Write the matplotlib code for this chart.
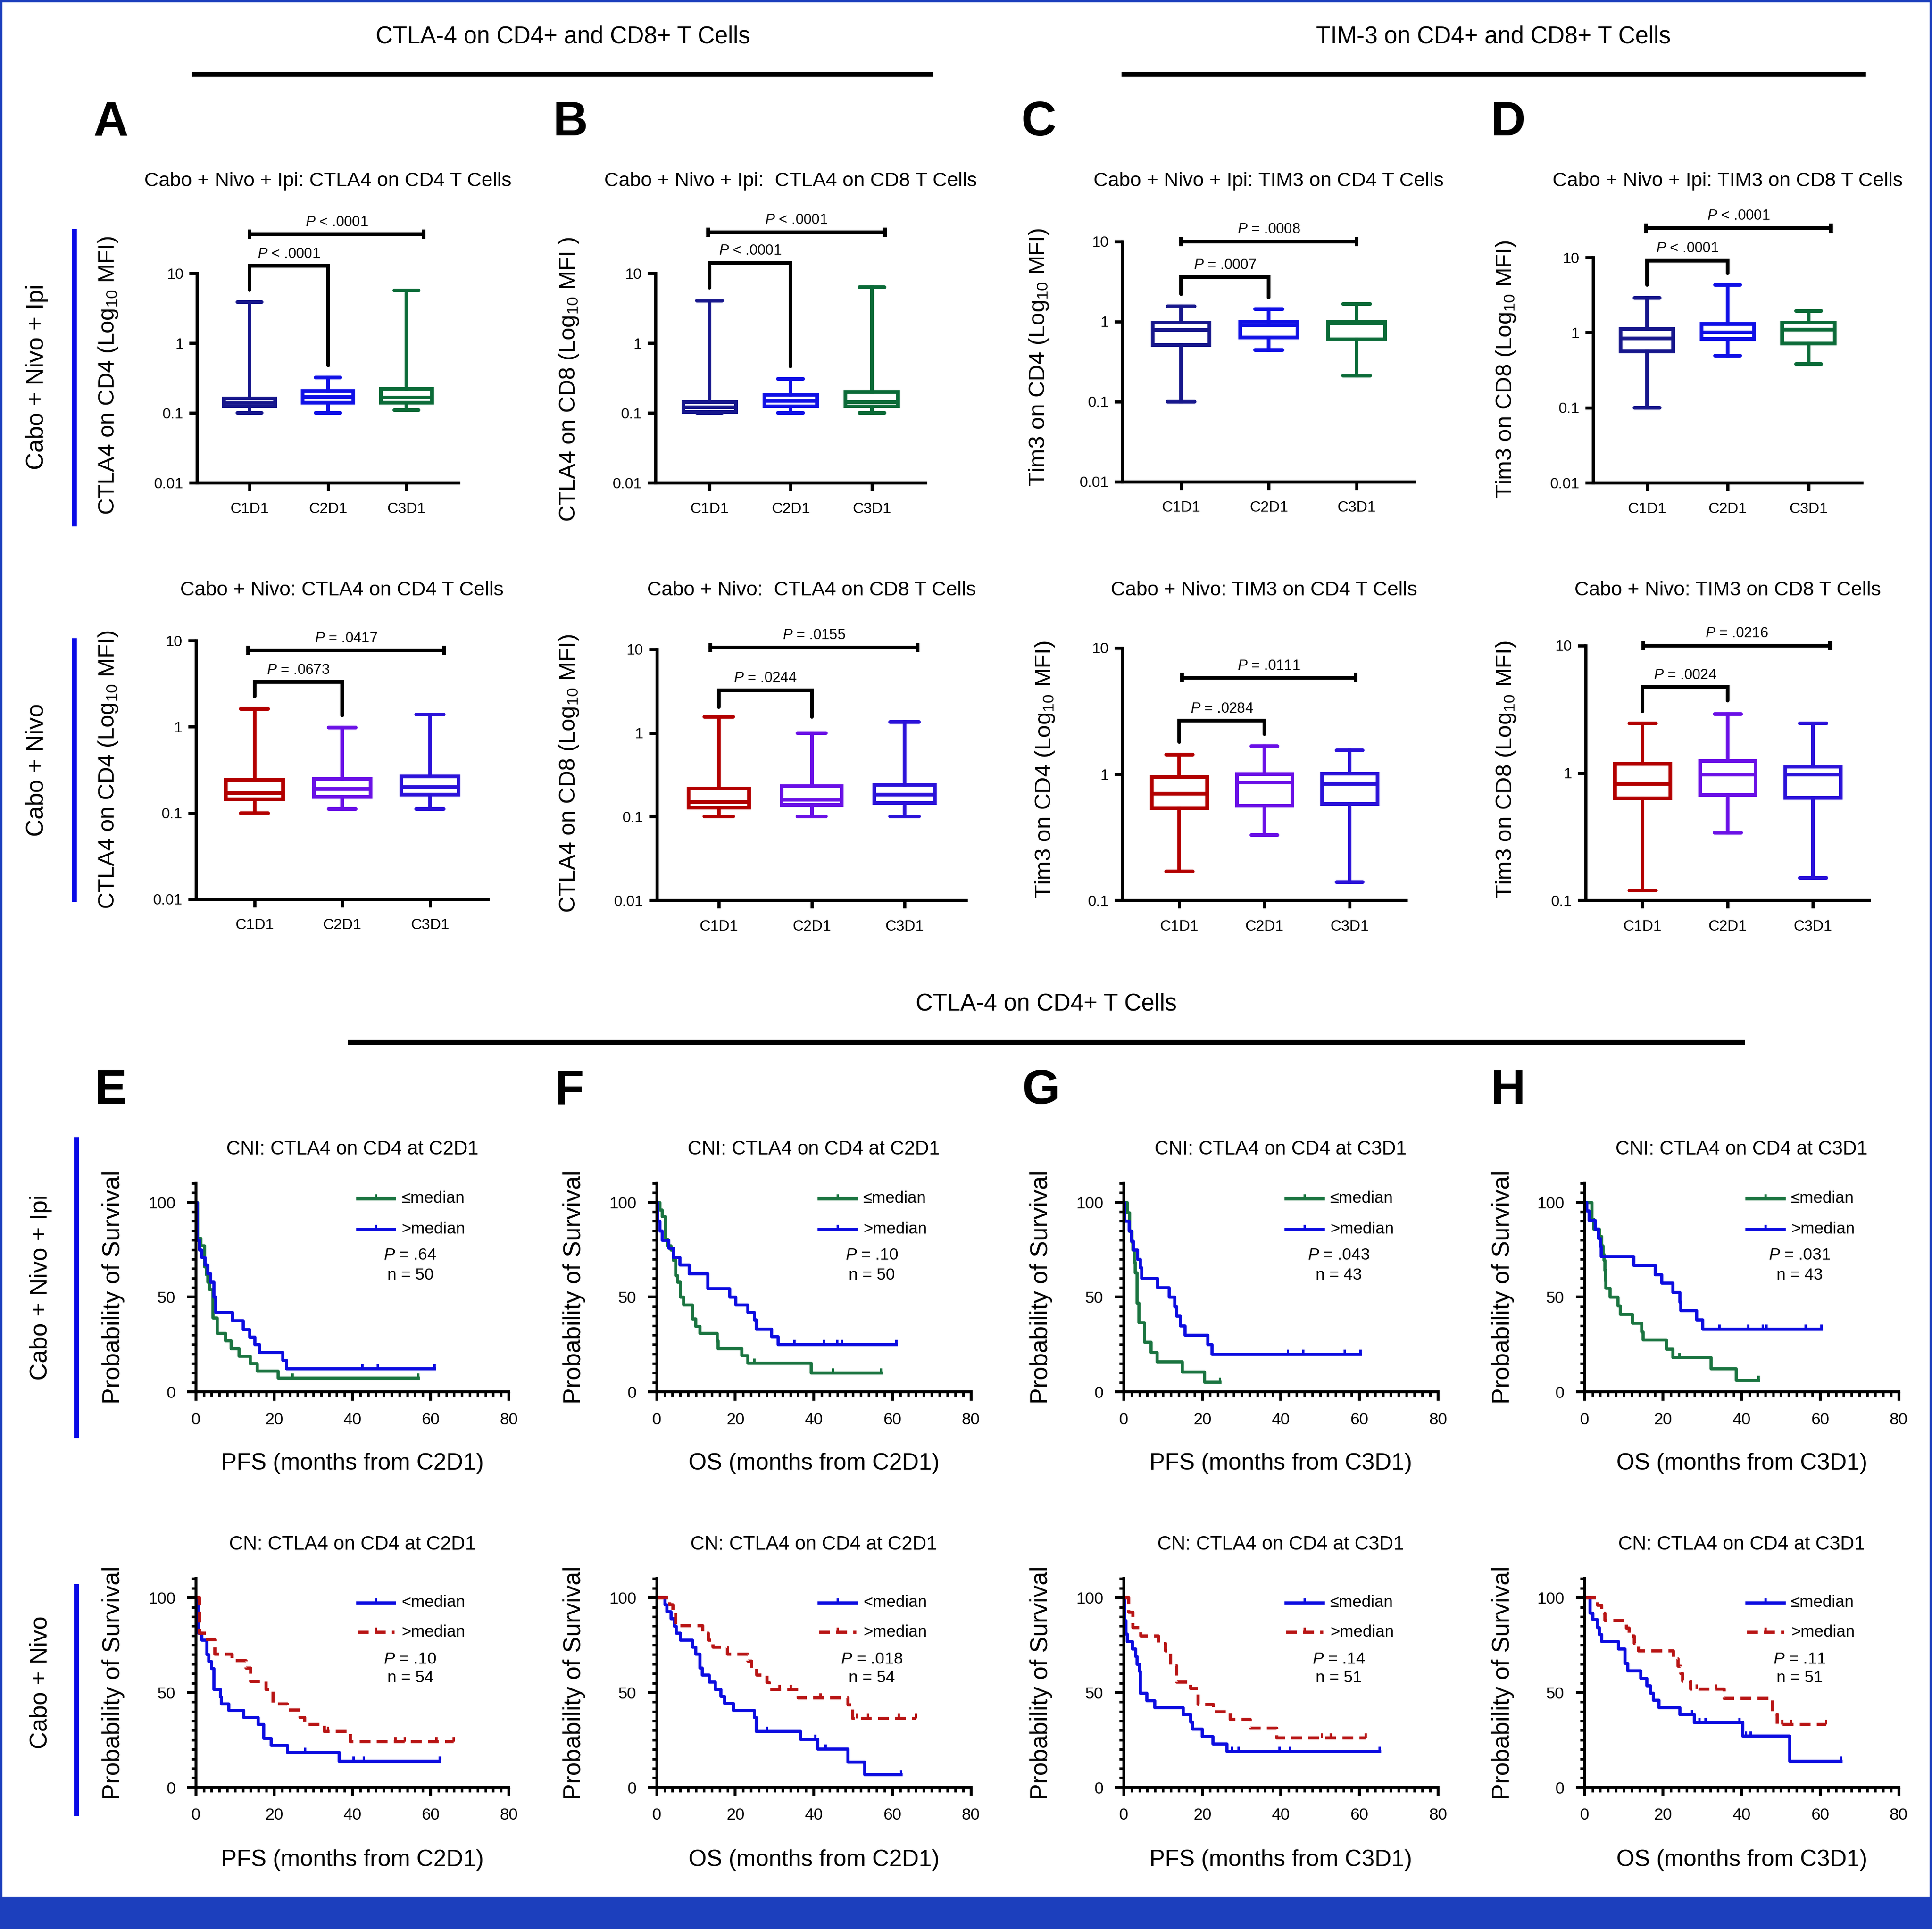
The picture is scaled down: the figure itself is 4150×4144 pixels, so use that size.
import numpy as np
import matplotlib
matplotlib.use("Agg")
import matplotlib.pyplot as plt
from matplotlib import font_manager
from matplotlib.lines import Line2D
from matplotlib.patches import Rectangle
from matplotlib.ticker import NullLocator

# ---------------- box plot data: [whisker low, Q1, median, Q3, whisker high] ----------------
timepoints = ["C1D1", "C2D1", "C3D1"]

ctla4_cd4_cni = [[0.10, 0.124, 0.14, 0.163, 3.9],
                 [0.10, 0.14, 0.17, 0.206, 0.324],
                 [0.11, 0.14, 0.166, 0.224, 5.7]]
ctla4_cd8_cni = [[0.10, 0.104, 0.12, 0.144, 4.1],
                 [0.10, 0.125, 0.15, 0.184, 0.31],
                 [0.10, 0.125, 0.143, 0.20, 6.4]]
tim3_cd4_cni = [[0.10, 0.51, 0.78, 0.97, 1.54],
                [0.44, 0.63, 0.90, 1.0, 1.42],
                [0.21, 0.60, 0.94, 1.0, 1.66]]
tim3_cd8_cni = [[0.10, 0.56, 0.84, 1.12, 2.9],
                [0.49, 0.82, 1.0, 1.3, 4.3],
                [0.38, 0.71, 1.1, 1.36, 1.93]]

ctla4_cd4_cn = [[0.10, 0.144, 0.17, 0.244, 1.6],
                [0.111, 0.153, 0.19, 0.25, 0.98],
                [0.111, 0.163, 0.20, 0.265, 1.38]]
ctla4_cd8_cn = [[0.10, 0.129, 0.15, 0.216, 1.56],
                [0.10, 0.138, 0.16, 0.23, 1.0],
                [0.10, 0.145, 0.184, 0.24, 1.35]]
tim3_cd4_cn = [[0.17, 0.54, 0.70, 0.95, 1.43],
               [0.33, 0.56, 0.86, 1.0, 1.66],
               [0.14, 0.58, 0.84, 1.01, 1.55]]
tim3_cd8_cn = [[0.12, 0.63, 0.82, 1.18, 2.44],
               [0.34, 0.67, 0.97, 1.24, 2.9],
               [0.15, 0.64, 0.97, 1.12, 2.44]]

# brackets: long (x from, x to, height), short (height, left leg end, right leg end)
p_long_top = ["< .0001", "< .0001", "= .0008", "< .0001"]
p_short_top = ["< .0001", "< .0001", "= .0007", "< .0001"]
long_top = [(0, 2.22, 36.5), (-0.02, 2.16, 39), (0, 2.0, 10), (-0.01, 2.28, 24.7)]
short_top = [(12.8, 5.8, 0.48), (14.2, 6.3, 0.47), (3.6, 2.2, 2.0), (9.1, 4.3, 6.2)]

p_long_bot = ["= .0417", "= .0155", "= .0111", "= .0216"]
p_short_bot = ["= .0673", "= .0244", "= .0284", "= .0024"]
long_bot = [(-0.07, 2.16, 7.7), (-0.09, 2.14, 10.5), (0.03, 2.07, 5.8), (0.01, 2.2, 10)]
short_bot = [(3.3, 2.24, 1.35), (3.24, 2.03, 1.56), (2.65, 1.8, 2.07), (4.7, 3.04, 3.7)]

box_titles_top = ["Cabo + Nivo + Ipi: CTLA4 on CD4 T Cells", "Cabo + Nivo + Ipi:  CTLA4 on CD8 T Cells",
                  "Cabo + Nivo + Ipi: TIM3 on CD4 T Cells", "Cabo + Nivo + Ipi: TIM3 on CD8 T Cells"]
box_titles_bot = ["Cabo + Nivo: CTLA4 on CD4 T Cells", "Cabo + Nivo:  CTLA4 on CD8 T Cells",
                  "Cabo + Nivo: TIM3 on CD4 T Cells", "Cabo + Nivo: TIM3 on CD8 T Cells"]
box_ylabels_top = ["CTLA4 on CD4 (Log$_{10}$ MFI)", "CTLA4 on CD8 (Log$_{10}$ MFI )",
                   "Tim3 on CD4 (Log$_{10}$ MFI)", "Tim3 on CD8 (Log$_{10}$ MFI)"]
box_ylabels_bot = ["CTLA4 on CD4 (Log$_{10}$ MFI)", "CTLA4 on CD8 (Log$_{10}$ MFI)",
                   "Tim3 on CD4 (Log$_{10}$ MFI)", "Tim3 on CD8 (Log$_{10}$ MFI)"]

# ---------------- Kaplan-Meier data: drop times, survival after drop, last time, censor times ----------------
e_cni_low = dict(t=[0, 0.4, 1.2, 2.2, 2.6, 3.0, 3.5, 4.3, 5.4, 7.5, 9.0, 11.0, 13.8, 15.6, 21.0],
                 s=[100, 81, 77, 66, 62, 58, 54, 39, 31, 27, 23, 19, 15, 11, 7.4],
                 end=56.8, cens=[24.7, 56.8])
e_cni_high = dict(t=[0, 0.3, 0.8, 1.4, 2.3, 3.0, 3.75, 4.6, 5.0, 9.3, 12.0, 13.75, 15.0, 16.25, 22.2, 23.1],
                  s=[100, 80, 75, 71, 67, 62.5, 58, 50, 42, 37.6, 33, 29, 25, 21, 16.7, 12.4],
                  end=61, cens=[42.5, 46.4, 61])
f_cni_low = dict(t=[0, 0.8, 1.35, 2.2, 2.8, 3.6, 4.2, 4.8, 5.2, 6.0, 6.8, 9.1, 9.9, 11.0, 15.3, 15.6, 21.6, 23.2, 39.3],
                 s=[100, 96, 92.5, 80.5, 77, 74.8, 69.5, 61.5, 58, 50, 46, 38.6, 34.6, 31, 27, 23, 19.3, 15.3, 10.2],
                 end=57, cens=[24.8, 44.9, 57])
f_cni_high = dict(t=[0, 0.2, 0.8, 1.4, 3.0, 4.2, 5.8, 8.2, 13.0, 18.5, 20.1, 23.2, 24.8, 25.3, 29.2, 30.8],
                  s=[100, 90, 85, 80, 76, 71, 67, 62.5, 54.5, 50, 46, 42, 38, 33.3, 29.2, 25],
                  end=61, cens=[35.0, 42.5, 45.9, 47.1, 61])
g_cni_low = dict(t=[0, 0.9, 1.5, 2.0, 2.3, 2.6, 2.9, 3.4, 3.8, 5.2, 6.9, 8.5, 14.9, 20.5],
                 s=[100, 94.6, 84.7, 79, 75, 68.4, 63, 47, 36.7, 26.3, 21, 16, 10.5, 5.3],
                 end=24.5, cens=[24.5])
g_cni_high = dict(t=[0, 0.15, 1.3, 1.9, 2.4, 3.5, 4.2, 4.5, 8.6, 11.5, 13.0, 13.4, 14.4, 15.6, 21.4, 22.4],
                  s=[100, 90, 85, 79.5, 75, 70, 65.5, 60, 55, 50, 45, 40, 35, 30, 25, 20],
                  end=60.3, cens=[41.8, 45.7, 56.2, 60.3])
h_cni_low = dict(t=[0, 1.8, 2.3, 3.7, 4.3, 4.7, 4.9, 5.1, 5.3, 5.4, 6.4, 8.5, 9.1, 12.1, 14.5, 14.9, 20.8, 22.4, 32.2, 38.6],
                 s=[100, 91, 86, 82, 77, 72.8, 69.5, 64, 59, 54.8, 50, 45.5, 41, 36.3, 31.6, 27.5, 22.7, 18.1, 12.4, 6.2],
                 end=44.3, cens=[24.1, 44.3])
h_cni_high = dict(t=[0, 0.5, 1.1, 2.6, 3.5, 3.9, 4.2, 12.45, 18.0, 19.6, 22.5, 24.2, 24.5, 28.5, 30.0],
                  s=[100, 95.6, 90.7, 86, 81, 76.8, 71.4, 66.8, 62, 57.5, 52.5, 47.5, 43, 38, 33.3],
                  end=60.3, cens=[34.3, 41.7, 45.3, 46.3, 56.2, 60.3])

e_cn_low = dict(t=[0, 0.6, 1.4, 2.7, 3.2, 4.0, 4.6, 6.25, 6.5, 8.3, 12.1, 15.8, 17.3, 19.2, 23.3, 36.5],
                s=[100, 81.3, 77.7, 70, 66.4, 62.8, 51.8, 47.8, 44.2, 40.6, 37, 33.2, 26, 22.3, 18.6, 13.9],
                end=62.3, cens=[27.9, 40.3, 42.9, 62.3])
e_cn_high = dict(t=[0, 0.8, 2.9, 4.75, 9.2, 12.7, 13.9, 17.9, 19.6, 23.3, 26.5, 27.7, 32.7, 39.4],
                 s=[100, 81.5, 78, 70.4, 66.8, 63, 55.8, 51.8, 44.2, 40.8, 37, 33.2, 29.5, 24.3],
                 end=65.8, cens=[33.75, 51, 53.3, 61.4, 65.8])
f_cn_low = dict(t=[0, 2.0, 2.5, 3.6, 4.4, 4.9, 6.0, 9.1, 9.9, 10.9, 11.5, 13.3, 14.9, 16.3, 17.2, 19.5, 24.8, 25.3,
                   36.6, 40.9, 48.6, 52.9],
                s=[100, 96.3, 92.6, 89, 85, 81.4, 77.7, 74, 70.3, 63, 59.3, 55.6, 51.8, 48, 44.3, 40.7, 37, 29.6,
                   25.5, 20.4, 13.4, 6.7],
                end=62.2, cens=[28, 40.3, 42.9, 62.2])
f_cn_high = dict(t=[0, 3.2, 4.1, 4.8, 11.7, 13.1, 14.3, 17.9, 23.1, 24.1, 25.4, 28.0, 28.6, 36.0, 48.6, 49.8],
                 s=[100, 96.3, 92.6, 85.2, 81.5, 77.8, 74, 70.3, 66.6, 62.9, 59.2, 55.5, 51.8, 47.2, 43.6, 36.5],
                 end=66, cens=[31.2, 34.0, 41.7, 50.9, 53.7, 61.6, 66])
g_cn_low = dict(t=[0, 0.15, 0.5, 0.9, 2.2, 3.0, 3.4, 3.9, 4.15, 5.8, 7.9, 15.1, 17.0, 17.4, 19.9, 22.7, 26.2],
                s=[100, 88, 81, 77, 73, 69, 65, 61.3, 49.7, 45.8, 42.2, 38.5, 34.5, 30.8, 26.8, 23, 19],
                end=65.1, cens=[27.5, 29.2, 39.6, 42.3, 65.1])
g_cn_high = dict(t=[0, 1.2, 2.3, 4.3, 8.8, 10.6, 11.9, 13.4, 17.0, 18.9, 22.8, 27.1, 32.1, 38.9],
                 s=[100, 92.5, 84.3, 80, 76, 72, 64.2, 55.7, 52.1, 43.8, 39.8, 35.9, 31.3, 26.2],
                 end=61.6, cens=[50.4, 52.6, 61.6])
h_cn_low = dict(t=[0, 1.3, 2.0, 3.2, 3.7, 4.3, 8.6, 10.2, 10.9, 14.3, 15.8, 16.8, 17.5, 18.9, 24.2, 27.9, 40.2, 52.2],
                s=[100, 92, 88.6, 84.3, 80.7, 77, 73, 65.5, 61.5, 57.7, 53.7, 49.7, 46.1, 42.2, 38.5, 34.2, 27.2, 14],
                end=65.2, cens=[27.3, 29.2, 30.7, 39.4, 41.1, 42.2, 65.2])
h_cn_high = dict(t=[0, 3.2, 4.3, 5.1, 10.6, 11.3, 12.6, 13.7, 22.6, 23.7, 24.5, 24.9, 26.9, 35.5, 47.8, 49.0],
                 s=[100, 96, 92, 88, 84, 80, 76, 72, 67.9, 63.9, 60, 56, 52, 47.1, 38.8, 33.2],
                 end=61.4, cens=[28.5, 33.4, 50.3, 52.6, 61.4])

km_p_top = [".64", ".10", ".043", ".031"]
km_n_top = ["50", "50", "43", "43"]
km_p_bot = [".10", ".018", ".14", ".11"]
km_n_bot = ["54", "54", "51", "51"]
km_leg_bot = [["<median", ">median"], ["<median", ">median"], ["\u2264median", ">median"], ["\u2264median", ">median"]]
km_titles_top = ["CNI: CTLA4 on CD4 at C2D1", "CNI: CTLA4 on CD4 at C2D1", "CNI: CTLA4 on CD4 at C3D1", "CNI: CTLA4 on CD4 at C3D1"]
km_titles_bot = ["CN: CTLA4 on CD4 at C2D1", "CN: CTLA4 on CD4 at C2D1", "CN: CTLA4 on CD4 at C3D1", "CN: CTLA4 on CD4 at C3D1"]
km_xlabels = ["PFS (months from C2D1)", "OS (months from C2D1)", "PFS (months from C3D1)", "OS (months from C3D1)"]

# ---------------- style ----------------
names = {f.name for f in font_manager.fontManager.ttflist}
BASE = "Liberation Sans" if "Liberation Sans" in names else "DejaVu Sans"
NARROW = "Liberation Sans Narrow" if "Liberation Sans Narrow" in names else None
plt.rcParams["font.family"] = [BASE, "DejaVu Sans"]
plt.rcParams["mathtext.fontset"] = "custom"
plt.rcParams["mathtext.rm"] = BASE
plt.rcParams["mathtext.it"] = BASE + ":italic"
COND = [NARROW, "DejaVu Sans"] if NARROW else [BASE, "DejaVu Sans"]
YLAB_SIZE = 13.5 if NARROW else 11.8
XLAB_SIZE = 14.5 if NARROW else 12

NAVY, BLUE, GREEN = "#17178c", "#1010e6", "#0b6b38"
RED, PURPLE, BLUE2 = "#b30000", "#6a10e6", "#2b12d9"
KM_GREEN, KM_BLUE, KM_RED = "#1a7440", "#0c0ce0", "#b81414"
FRAME = "#1c3fbd"
LW = 1.9
UP = [(0, 0), (0, 1)]

W, H = 1568.0, 1566.0


def fx(x):
    return x / W


def fy(y):
    return 1 - y / H


def rect(x0, x1, ybot, ytop):
    return [fx(x0), fy(ybot), (x1 - x0) / W, (ybot - ytop) / H]


fig = plt.figure(figsize=(4150 / 300, 4144 / 300), dpi=300)


def box_panel(ax, stats, colors, ymin, lng, sht, p_lng, p_sht):
    bstats = [dict(whislo=s[0], q1=s[1], med=s[2], q3=s[3], whishi=s[4], fliers=[]) for s in stats]
    art = ax.bxp(bstats, positions=[0, 1, 2], widths=0.65, capwidths=0.31,
                 showfliers=False, patch_artist=True, manage_ticks=False)
    for i, c in enumerate(colors):
        art["boxes"][i].set(facecolor="white", edgecolor=c, linewidth=LW)
        art["medians"][i].set(color=c, linewidth=LW)
        for w in art["whiskers"][2 * i:2 * i + 2]:
            w.set(color=c, linewidth=LW)
        for cp in art["caps"][2 * i:2 * i + 2]:
            cp.set(color=c, linewidth=LW, solid_capstyle="round")
    ax.set_yscale("log")
    ax.set_ylim(ymin, 10)
    ax.set_xlim(-0.667, 2.66)
    if ymin < 0.05:
        ax.set_yticks([0.01, 0.1, 1, 10], ["0.01", "0.1", "1", "10"])
    else:
        ax.set_yticks([0.1, 1, 10], ["0.1", "1", "10"])
    ax.yaxis.set_minor_locator(NullLocator())
    ax.set_xticks([0, 1, 2], timepoints)
    for sp in ["top", "right"]:
        ax.spines[sp].set_visible(False)
    for sp in ["left", "bottom"]:
        ax.spines[sp].set_linewidth(1.6)
    ax.tick_params(width=1.6, length=4, labelsize=7.8, pad=3)
    ax.tick_params(axis="x", pad=6)
    # comparison brackets
    x0, x1, yl = lng
    ax.plot([x0, x1], [yl, yl], color="k", lw=LW, marker="|", ms=5, mew=LW, clip_on=False)
    ax.annotate("$P$ " + p_lng, xy=((x0 + x1) / 2, yl), xytext=(0, 2.5), textcoords="offset points",
                ha="center", va="bottom", fontsize=7.5, annotation_clip=False)
    top, la, lb = sht
    ax.plot([0, 0, 1, 1], [la, top, top, lb], color="k", lw=LW, clip_on=False,
            solid_joinstyle="miter", solid_capstyle="round")
    ax.annotate("$P$ " + p_sht, xy=(0.5, top), xytext=(0, 2.5), textcoords="offset points",
                ha="center", va="bottom", fontsize=7.5, annotation_clip=False)


def km_panel(ax, curves, labels, p_txt, n_txt, leg_y):
    for cv, color, ls in curves:
        x = list(cv["t"]) + [cv["end"]]
        y = list(cv["s"]) + [cv["s"][-1]]
        ax.plot(x, y, drawstyle="steps-post", color=color, lw=1.6, ls=ls)
        idx = np.searchsorted(cv["t"], cv["cens"], side="right") - 1
        ax.plot(cv["cens"], np.array(cv["s"])[idx], ls="none", marker=UP, ms=5,
                mfc="none", mec=color, mew=1.2)
    ax.set_xlim(0, 80)
    ax.set_ylim(0, 110)
    ax.set_xticks([0, 20, 40, 60, 80])
    ax.set_xticks(np.arange(0, 81, 2), minor=True)
    ax.set_yticks([0, 50, 100])
    ax.set_yticks(np.arange(0, 111, 5), minor=True)
    for sp in ["top", "right"]:
        ax.spines[sp].set_visible(False)
    for sp in ["left", "bottom"]:
        ax.spines[sp].set_linewidth(1.5)
    ax.tick_params(which="major", width=1.5, length=4.5, labelsize=8.5, pad=6)
    ax.tick_params(which="minor", width=1.3, length=2.5)
    # legend drawn by hand
    for (cv, color, ls), lab, yy in zip(curves, labels, leg_y[:2]):
        ax.plot([0.516, 0.634], [yy, yy], transform=ax.transAxes, color=color, lw=1.6, ls=ls, clip_on=False)
        ax.plot([0.575], [yy], transform=ax.transAxes, ls="none", marker=UP, ms=5, mfc="none",
                mec=color, mew=1.2, clip_on=False)
        ax.text(0.657, yy, lab, transform=ax.transAxes, ha="left", va="center", fontsize=8.5)
    ax.text(0.685, leg_y[2], "$P$ = " + p_txt, transform=ax.transAxes, ha="center", va="center", fontsize=8.5)
    ax.text(0.685, leg_y[3], "n = " + n_txt, transform=ax.transAxes, ha="center", va="center", fontsize=8.5)


# ---------------- box plot rows ----------------
top_stats = [ctla4_cd4_cni, ctla4_cd8_cni, tim3_cd4_cni, tim3_cd8_cni]
bot_stats = [ctla4_cd4_cn, ctla4_cd8_cn, tim3_cd4_cn, tim3_cd8_cn]
top_rects = [(160, 372, 392, 222), (532, 751, 392, 222), (911, 1148, 391, 196), (1293, 1511, 392, 209)]
bot_rects = [(159, 396, 730, 520), (533, 784, 731, 527), (911, 1141, 731, 526), (1287, 1517, 731, 524)]
bot_ymin = [0.01, 0.01, 0.1, 0.1]
ylab_x_top = [88, 462, 843, 1222]
ylab_y_top = [305, 308, 290, 300]
ylab_x_bot = [88, 462, 848, 1222]
ylab_y_bot = [625, 628, 625, 625]

for i in range(4):
    r = top_rects[i]
    ax = fig.add_axes(rect(*r))
    box_panel(ax, top_stats[i], [NAVY, BLUE, GREEN], 0.01, long_top[i], short_top[i], p_long_top[i], p_short_top[i])
    fig.text(fx((r[0] + r[1]) / 2), fy(147), box_titles_top[i], ha="center", va="center", fontsize=10.3)
    fig.text(fx(ylab_x_top[i]), fy(ylab_y_top[i]), box_ylabels_top[i], rotation=90, ha="center", va="center",
             fontsize=YLAB_SIZE, family=COND)

    r = bot_rects[i]
    ax = fig.add_axes(rect(*r))
    box_panel(ax, bot_stats[i], [RED, PURPLE, BLUE2], bot_ymin[i], long_bot[i], short_bot[i], p_long_bot[i], p_short_bot[i])
    fig.text(fx((r[0] + r[1]) / 2), fy(479), box_titles_bot[i], ha="center", va="center", fontsize=10.3)
    fig.text(fx(ylab_x_bot[i]), fy(ylab_y_bot[i]), box_ylabels_bot[i], rotation=90, ha="center", va="center",
             fontsize=YLAB_SIZE, family=COND)

# ---------------- Kaplan-Meier rows ----------------
km_x = [(159, 413), (533, 788), (912, 1167), (1286, 1541)]
km_ylab_x = [92, 466, 845, 1220]
top_curves = [(e_cni_low, e_cni_high), (f_cni_low, f_cni_high), (g_cni_low, g_cni_high), (h_cni_low, h_cni_high)]
bot_curves = [(e_cn_low, e_cn_high), (f_cn_low, f_cn_high), (g_cn_low, g_cn_high), (h_cn_low, h_cn_high)]

for i in range(4):
    x0, x1 = km_x[i]
    xc = (x0 + x1) / 2
    ax = fig.add_axes(rect(x0, x1, 1130, 960.6))
    lo, hi = top_curves[i]
    km_panel(ax, [(lo, KM_GREEN, "-"), (hi, KM_BLUE, "-")], ["\u2264median", ">median"],
             km_p_top[i], km_n_top[i], [0.927, 0.78, 0.655, 0.56])
    fig.text(fx(xc), fy(933), km_titles_top[i], ha="center", va="center", fontsize=10)
    fig.text(fx(xc), fy(1188), km_xlabels[i], ha="center", va="center", fontsize=XLAB_SIZE, family=COND)
    fig.text(fx(km_ylab_x[i]), fy(1045), "Probability of Survival", rotation=90, ha="center", va="center",
             fontsize=12.5)

    ax = fig.add_axes(rect(x0, x1, 1451, 1281.6))
    lo, hi = bot_curves[i]
    km_panel(ax, [(lo, KM_BLUE, "-"), (hi, KM_RED, (0, (3.5, 2)))], km_leg_bot[i],
             km_p_bot[i], km_n_bot[i], [0.885, 0.744, 0.614, 0.525])
    fig.text(fx(xc), fy(1254), km_titles_bot[i], ha="center", va="center", fontsize=10)
    fig.text(fx(xc), fy(1510), km_xlabels[i], ha="center", va="center", fontsize=XLAB_SIZE, family=COND)
    fig.text(fx(km_ylab_x[i]), fy(1366), "Probability of Survival", rotation=90, ha="center", va="center",
             fontsize=12.5)

# ---------------- headers, panel letters, row labels ----------------
headers = [("CTLA-4 on CD4+ and CD8+ T Cells", 457, 30, 158, 755, 60),
           ("TIM-3 on CD4+ and CD8+ T Cells", 1212, 30, 912, 1512, 60),
           ("CTLA-4 on CD4+ T Cells", 849, 815, 284, 1414, 846)]
for txt, xc, yc, xa, xb, yl in headers:
    fig.text(fx(xc), fy(yc), txt, ha="center", va="center", fontsize=12.2)
    fig.add_artist(Line2D([fx(xa), fx(xb)], [fy(yl), fy(yl)], color="k", lw=2.6))

letters = [("A", 90, 100), ("B", 463, 100), ("C", 843, 100), ("D", 1224, 100),
           ("E", 90, 886), ("F", 462, 886), ("G", 845, 886), ("H", 1224, 886)]
for lt, x, y in letters:
    fig.text(fx(x), fy(y), lt, ha="center", va="center", fontsize=25, fontweight="bold")

rows = [("Cabo + Nivo + Ipi", 30, 306, 60, 188, 425),
        ("Cabo + Nivo", 30, 625, 60, 520, 730),
        ("Cabo + Nivo + Ipi", 33, 1045, 62, 925, 1165),
        ("Cabo + Nivo", 33, 1366, 62, 1288, 1472)]
for txt, tx, ty, lx, ya, yb in rows:
    fig.text(fx(tx), fy(ty), txt, rotation=90, ha="center", va="center", fontsize=12.4)
    fig.add_artist(Line2D([fx(lx), fx(lx)], [fy(ya), fy(yb)], color="#0a0ae6", lw=2.6))

# blue frame
fig.add_artist(Rectangle((0, 0), 1, 1, transform=fig.transFigure, fill=False, edgecolor=FRAME, lw=2.5))
fig.add_artist(Rectangle((0, 0), 1, 26 / H, transform=fig.transFigure, facecolor=FRAME, edgecolor="none"))

fig.savefig("out.png", dpi=300, facecolor="white")
